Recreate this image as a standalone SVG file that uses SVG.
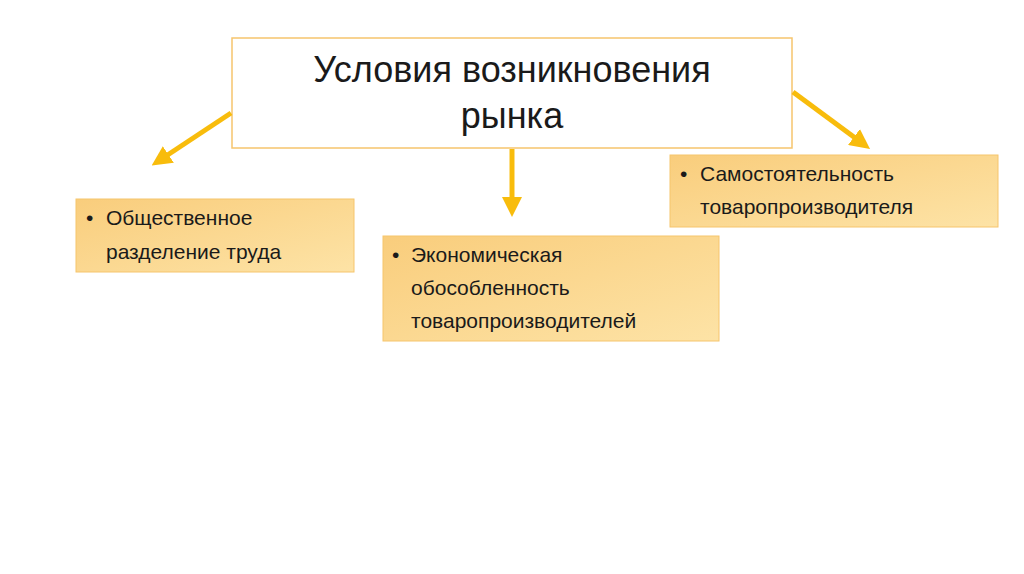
<svg xmlns="http://www.w3.org/2000/svg" width="1024" height="574" viewBox="0 0 1024 574">
<defs>
<linearGradient id="g" x1="0" y1="0" x2="1" y2="1">
<stop offset="0" stop-color="#f9cd7c"/><stop offset="1" stop-color="#fde3a6"/>
</linearGradient>
<marker id="ah" viewBox="0 0 10 10" refX="5" refY="5" markerWidth="4" markerHeight="4" orient="auto"><path d="M0,0 L10,5 L0,10 z" fill="#f8bc0c"/></marker>
<style>
.box{fill:url(#g);stroke:#f6c56d;stroke-width:1}
.t{font-family:"Liberation Sans",Arial,sans-serif;font-size:21px;fill:#1a1a1a}
.c{stroke:#f8bc0c;stroke-width:5;fill:none;marker-end:url(#ah)}
</style>
</defs>
<rect width="1024" height="574" fill="#fff"/>
<g id="title"><rect x="232" y="38" width="560" height="110" fill="#fff" stroke="#f6c56d" stroke-width="1.5"/>
<text x="512" y="82" text-anchor="middle" style="font-family:'Liberation Sans',Arial,sans-serif;font-size:36px;fill:#1a1a1a">Условия возникновения</text>
<text x="512" y="128" text-anchor="middle" style="font-family:'Liberation Sans',Arial,sans-serif;font-size:36px;fill:#1a1a1a">рынка</text></g>
<g id="connectors">
<path class="c" d="M231,113 L160,160"/>
<path class="c" d="M512,149 L512,207"/>
<path class="c" d="M793,92 L862,143"/>
</g>
<g id="n1"><rect class="box" x="76" y="199" width="278" height="73"/>
<text class="t" x="86" y="225">•</text><text class="t" x="106" y="225">Общественное</text><text class="t" x="106" y="259">разделение труда</text></g>
<g id="n2"><rect class="box" x="383" y="236" width="336" height="105"/>
<text class="t" x="392" y="262">•</text><text class="t" x="411" y="262">Экономическая</text><text class="t" x="411" y="295">обособленность</text><text class="t" x="411" y="328">товаропроизводителей</text></g>
<g id="n3"><rect class="box" x="670" y="155" width="328" height="72"/>
<text class="t" x="680" y="181">•</text><text class="t" x="700" y="181">Самостоятельность</text><text class="t" x="700" y="214">товаропроизводителя</text></g>
</svg>
